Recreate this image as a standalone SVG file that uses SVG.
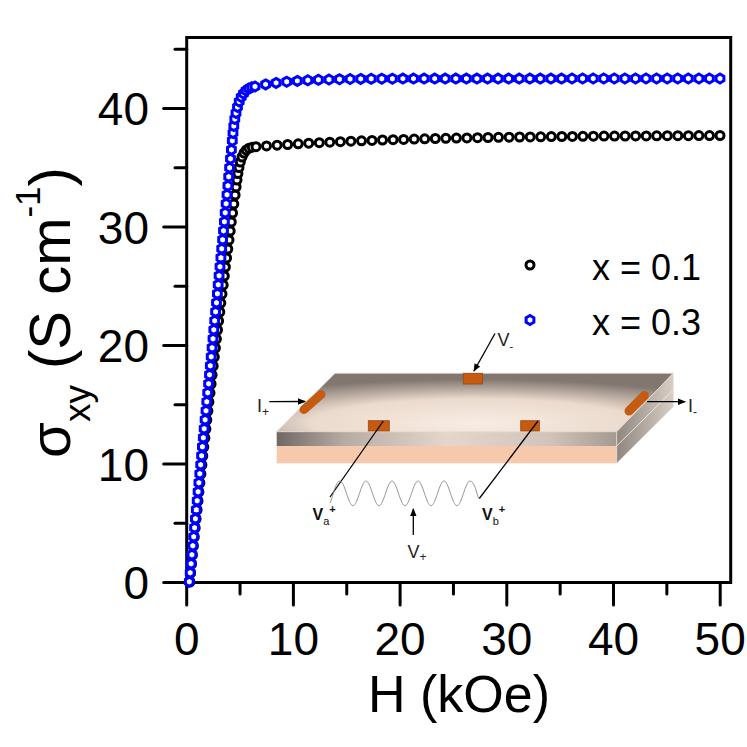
<svg xmlns="http://www.w3.org/2000/svg" width="747" height="747" viewBox="0 0 747 747">
<defs>
<style>
text{font-family:"Liberation Sans",Arial,sans-serif;fill:#000}
.ax{fill:none;stroke:#000;stroke-width:3}
.tk{stroke:#000;stroke-width:3;stroke-linecap:round}
.tl{font-size:46px}
.ser{fill:none;stroke:none}
.lead{stroke:#000;stroke-width:1.3;fill:none}
.il{font-size:18px;fill:#222}
.bl{font-size:16px;font-weight:bold;fill:#111}
.pad{fill:#c55a11;stroke:#a2480c;stroke-width:0.8}
</style>
<marker id="mc" markerUnits="userSpaceOnUse" markerWidth="14" markerHeight="14" refX="7" refY="7" overflow="visible">
<circle cx="7" cy="7" r="4" fill="#fff" stroke="#000" stroke-width="3"/>
</marker>
<marker id="mh" markerUnits="userSpaceOnUse" markerWidth="14" markerHeight="14" refX="7" refY="7" overflow="visible">
<polygon points="7,2.5 10.9,4.75 10.9,9.25 7,11.5 3.1,9.25 3.1,4.75" fill="#fff" stroke="#0000ff" stroke-width="3"/>
</marker>
<marker id="ah" markerUnits="userSpaceOnUse" markerWidth="9" markerHeight="8" refX="7" refY="4" orient="auto" overflow="visible">
<path d="M0,0.8 L8,4 L0,7.2 z" fill="#000"/>
</marker>
<radialGradient id="gTop" cx="50%" cy="85%" r="75%">
<stop offset="0" stop-color="#f8ece3"/>
<stop offset="0.55" stop-color="#ebdacd"/>
<stop offset="1" stop-color="#817670"/>
</radialGradient>
<linearGradient id="gFront" x1="0" y1="0" x2="1" y2="0">
<stop offset="0" stop-color="#6f6863"/>
<stop offset="0.2" stop-color="#b7aca4"/>
<stop offset="0.5" stop-color="#e4d6cb"/>
<stop offset="0.8" stop-color="#d2c4ba"/>
<stop offset="1" stop-color="#a49a92"/>
</linearGradient>
<linearGradient id="gSide" x1="0" y1="0" x2="1" y2="0">
<stop offset="0" stop-color="#8f8780"/>
<stop offset="1" stop-color="#d8cec6"/>
</linearGradient>
</defs>

<g id="axes">
<rect class="ax" x="186.7" y="37.5" width="544" height="545"/>
<g id="y-ticks">
<line class="tk" x1="163.7" y1="582.5" x2="186.7" y2="582.5"/>
<line class="tk" x1="175" y1="523.25" x2="186.7" y2="523.25"/>
<line class="tk" x1="163.7" y1="464" x2="186.7" y2="464"/>
<line class="tk" x1="175" y1="404.75" x2="186.7" y2="404.75"/>
<line class="tk" x1="163.7" y1="345.5" x2="186.7" y2="345.5"/>
<line class="tk" x1="175" y1="286.25" x2="186.7" y2="286.25"/>
<line class="tk" x1="163.7" y1="227" x2="186.7" y2="227"/>
<line class="tk" x1="175" y1="167.75" x2="186.7" y2="167.75"/>
<line class="tk" x1="163.7" y1="108.5" x2="186.7" y2="108.5"/>
<line class="tk" x1="175" y1="49.25" x2="186.7" y2="49.25"/>
</g>
<g id="x-ticks">
<line class="tk" x1="186.7" y1="582.5" x2="186.7" y2="605"/>
<line class="tk" x1="240.05" y1="582.5" x2="240.05" y2="594"/>
<line class="tk" x1="293.4" y1="582.5" x2="293.4" y2="605"/>
<line class="tk" x1="346.75" y1="582.5" x2="346.75" y2="594"/>
<line class="tk" x1="400.1" y1="582.5" x2="400.1" y2="605"/>
<line class="tk" x1="453.45" y1="582.5" x2="453.45" y2="594"/>
<line class="tk" x1="506.8" y1="582.5" x2="506.8" y2="605"/>
<line class="tk" x1="560.15" y1="582.5" x2="560.15" y2="594"/>
<line class="tk" x1="613.5" y1="582.5" x2="613.5" y2="605"/>
<line class="tk" x1="666.85" y1="582.5" x2="666.85" y2="594"/>
<line class="tk" x1="720.2" y1="582.5" x2="720.2" y2="605"/>
</g>
<g id="y-labels" text-anchor="end">
<text class="tl" x="149" y="599">0</text>
<text class="tl" x="149" y="480.5">10</text>
<text class="tl" x="149" y="362">20</text>
<text class="tl" x="149" y="243.5">30</text>
<text class="tl" x="149" y="125">40</text>
</g>
<g id="x-labels" text-anchor="middle">
<text class="tl" x="186.7" y="655">0</text>
<text class="tl" x="293.4" y="655">10</text>
<text class="tl" x="400.1" y="655">20</text>
<text class="tl" x="506.8" y="655">30</text>
<text class="tl" x="613.5" y="655">40</text>
<text class="tl" x="720.2" y="655">50</text>
</g>
<text id="x-title" x="459" y="712" text-anchor="middle" font-size="52">H (kOe)</text>
<text id="y-title" transform="translate(70,312.5) rotate(-90)" text-anchor="middle" font-size="58">σ<tspan font-size="37" dy="20">xy</tspan><tspan dy="-20"> (S cm</tspan><tspan font-size="35" dy="-30">-1</tspan><tspan dy="30">)</tspan></text>
</g>

<g id="series-x01">
<polyline class="ser" marker-start="url(#mc)" marker-mid="url(#mc)" marker-end="url(#mc)" points="189.8,582 190.6,573 191.5,564 192.4,555 193.4,546 194.3,537 195.2,528 196.1,519 197.1,510 198,501 198.9,492 199.9,483 200.9,474 201.9,465 202.8,456 203.8,447 204.9,438 205.9,429 206.8,420 207.9,411 208.9,402 210,393 211.1,384 212.1,375 213.2,366 214.3,357 215.4,348 216.4,339 217.5,330 218.6,321 219.8,312 220.8,303 222,294 223.2,285 224.3,276 225.4,267 226.6,258 227.8,249 229,240 230.2,231 231.3,222 232.6,213 233.8,204 235.1,195 236.1,187 237,180 237.9,173.5 239,167.5 240.3,162 242,157 244,153 246.3,150 249,148.2 252.3,147.3 256,146.7 266.5,145.9 277.1,145.2 287.6,144.5 298.2,143.8 308.7,143.2 319.3,142.7 329.8,142.2 340.4,141.7 350.9,141.2 361.5,140.8 372,140.4 382.5,140 393.1,139.7 403.6,139.4 414.2,139.1 424.7,138.8 435.3,138.5 445.8,138.3 456.4,138.1 466.9,137.9 477.5,137.7 488,137.5 498.5,137.3 509.1,137.2 519.6,137 530.2,136.9 540.7,136.8 551.3,136.6 561.8,136.5 572.4,136.4 582.9,136.3 593.4,136.2 604,136.1 614.5,136.1 625.1,136 635.6,135.9 646.2,135.9 656.7,135.8 667.3,135.7 677.8,135.7 688.4,135.7 698.9,135.6 709.5,135.6 720,135.5"/>
</g>
<g id="series-x03">
<polyline class="ser" marker-start="url(#mh)" marker-mid="url(#mh)" marker-end="url(#mh)" points="189.3,581.7 190.2,572.7 191.1,563.7 191.9,554.7 192.8,545.7 193.7,536.7 194.6,527.7 195.4,518.7 196.3,509.7 197.2,500.7 198.1,491.7 198.9,482.7 199.8,473.7 200.7,464.7 201.6,455.7 202.4,446.7 203.3,437.7 204.2,428.7 205.1,419.7 206,410.7 206.8,401.7 207.7,392.7 208.6,383.7 209.5,374.7 210.3,365.7 211.2,356.7 212.1,347.7 213,338.7 213.8,329.7 214.7,320.7 215.6,311.7 216.5,302.7 217.4,293.7 218.2,284.7 219.1,275.7 220,266.7 220.9,257.7 221.7,248.7 222.6,239.7 223.5,230.7 224.4,221.7 225.2,212.7 226.1,203.7 227,194.7 227.9,185.7 228.7,176.7 229.6,167.7 230.5,158.7 231.4,149.7 232.3,140.7 233,133 233.8,126 234.8,119 236,113 237.5,107 239.2,101.5 241.2,97 243.5,93.5 246,90.5 248.8,88.5 251.8,87.3 255,86.5 265.6,84.4 276.1,82.9 286.7,81.7 297.3,80.9 307.8,80.3 318.4,79.8 329,79.5 339.5,79.2 350.1,79 360.7,78.9 371.2,78.8 381.8,78.7 392.4,78.7 402.9,78.6 413.5,78.6 424.1,78.6 434.7,78.6 445.2,78.6 455.8,78.6 466.4,78.6 476.9,78.6 487.5,78.6 498.1,78.6 508.6,78.6 519.2,78.6 529.8,78.6 540.3,78.6 550.9,78.6 561.5,78.6 572,78.5 582.6,78.5 593.2,78.5 603.7,78.5 614.3,78.5 624.9,78.5 635.5,78.5 646,78.5 656.6,78.5 667.2,78.5 677.7,78.5 688.3,78.5 698.9,78.5 709.4,78.5 720,78.5"/>
</g>

<g id="legend">
<circle cx="530" cy="265" r="4" fill="#fff" stroke="#000" stroke-width="3"/>
<text x="592" y="280" font-size="36">x = 0.1</text>
<polygon points="530,315.5 533.9,317.75 533.9,322.25 530,324.5 526.1,322.25 526.1,317.75" fill="#fff" stroke="#0000ff" stroke-width="3"/>
<text x="592" y="335" font-size="36">x = 0.3</text>
</g>

<g id="inset">
<g id="slab">
<polygon points="335,373.3 673.3,373.3 616.7,431.7 276.7,431.7" fill="url(#gTop)" stroke="#e2d6cd" stroke-width="0.8"/>
<rect x="276.7" y="431.7" width="340" height="14.3" fill="url(#gFront)"/>
<rect x="276.7" y="446" width="340" height="17.3" fill="#f6c9ac"/>
<polygon points="616.7,431.7 673.3,373.3 673.3,406.7 616.7,463.3" fill="url(#gSide)" stroke="#e6ddd6" stroke-width="0.8"/>
<line x1="616.7" y1="446" x2="673.3" y2="390" stroke="#ece4dd" stroke-width="1"/>
<line x1="276.7" y1="431.7" x2="616.7" y2="431.7" stroke="#eadfd6" stroke-width="0.8"/>
</g>
<g id="contact-Vminus"><rect class="pad" x="463.3" y="373.3" width="19.3" height="10.7"/></g>
<g id="contact-Va"><rect class="pad" x="368.3" y="420.7" width="21" height="10.3"/></g>
<g id="contact-Vb"><rect class="pad" x="520.7" y="420.7" width="18.7" height="10.3"/></g>
<g id="contact-Iplus"><line x1="304" y1="409.5" x2="321" y2="394.5" stroke="#c55a11" stroke-width="9" stroke-linecap="round"/></g>
<g id="contact-Iminus"><line x1="629" y1="411" x2="644.5" y2="395.5" stroke="#c55a11" stroke-width="9" stroke-linecap="round"/></g>
<g id="connectors">
<line class="lead" x1="269.3" y1="401.7" x2="305" y2="401.5" marker-end="url(#ah)"/>
<line class="lead" x1="647" y1="401.7" x2="685" y2="401.7" marker-end="url(#ah)"/>
<line class="lead" x1="495" y1="333.5" x2="474" y2="371" marker-end="url(#ah)"/>
<line class="lead" x1="413.3" y1="535" x2="413.3" y2="509" marker-end="url(#ah)"/>
<line class="lead" x1="383.3" y1="421" x2="330" y2="497"/>
<line class="lead" x1="538" y1="421" x2="479.3" y2="498.5"/>
<path d="M330,503 C333.5,496 335.3,481 340,481 C344.7,481 348.3,505.7 353,505.7 C357.7,505.7 361.3,481 366,481 C370.7,481 374.3,505.7 379,505.7 C383.7,505.7 387.3,481 392,481 C396.7,481 400.3,505.7 405,505.7 C409.7,505.7 413.3,481 418,481 C422.7,481 426.3,505.7 431,505.7 C435.7,505.7 439.3,481 444,481 C448.7,481 452.3,505.7 457,505.7 C461.7,505.7 465.3,481 470,481 C474.2,481 476.5,492 478.5,498.5" fill="none" stroke="#8a8a8a" stroke-width="0.9"/>
</g>
<g id="inset-labels">
<text class="il" x="257" y="411.5">I<tspan font-size="12" dy="4">+</tspan></text>
<text class="il" x="688" y="411.5">I<tspan font-size="12" dy="4">-</tspan></text>
<text class="il" x="497.5" y="346">V<tspan font-size="11" dy="4">-</tspan></text>
<text class="il" x="407.5" y="558">V<tspan font-size="12" dy="3">+</tspan></text>
<text class="bl" x="312.5" y="520">V<tspan font-size="11" font-weight="normal" dy="5">a</tspan><tspan font-size="11" dy="-12">+</tspan></text>
<text class="bl" x="482" y="520">V<tspan font-size="11" font-weight="normal" dy="5">b</tspan><tspan font-size="11" dy="-12">+</tspan></text>
</g>
</g>
</svg>
